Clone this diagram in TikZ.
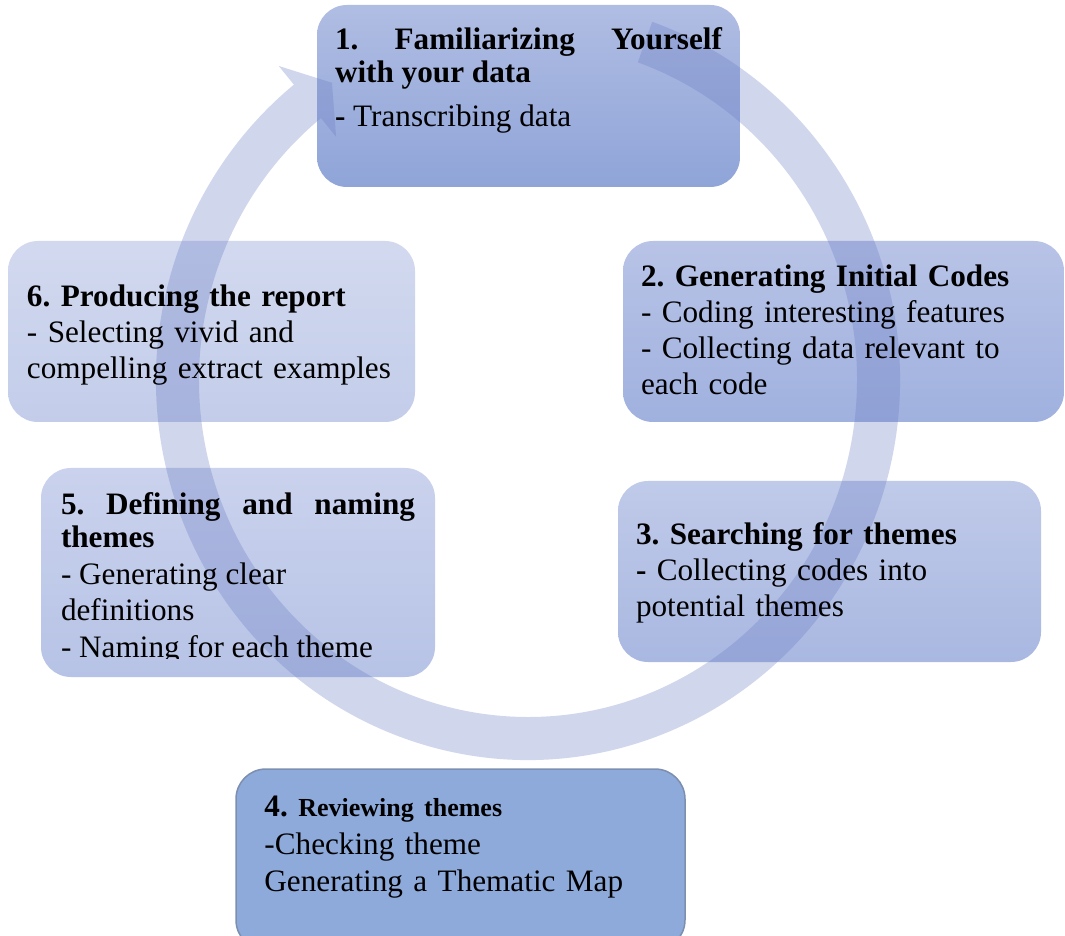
\documentclass[tikz,border=0pt]{standalone}
\usepackage{fontspec}
\setmainfont{Liberation Serif}
\usepackage{xcolor}
\usetikzlibrary{positioning}
\frenchspacing

\definecolor{s1top}{RGB}{176,189,227}
\definecolor{s1bot}{RGB}{143,164,216}
\definecolor{s2top}{RGB}{184,195,230}
\definecolor{s2bot}{RGB}{160,177,223}
\definecolor{s3top}{RGB}{192,202,233}
\definecolor{s3bot}{RGB}{169,184,225}
\definecolor{s4fill}{RGB}{142,170,219}
\definecolor{s4line}{RGB}{124,143,176}
\definecolor{s5top}{RGB}{202,210,237}
\definecolor{s5bot}{RGB}{183,195,230}
\definecolor{s6top}{RGB}{210,217,239}
\definecolor{s6bot}{RGB}{195,205,234}
\definecolor{ringblue}{RGB}{108,126,196}

\tikzset{
  stage/.style={rectangle, rounded corners=30pt, inner sep=0pt},
  stagetext/.style={inner sep=0pt, align=left, font=\fontsize{31.2}{36}\selectfont},
  cyclearrow/.style={fill=ringblue, fill opacity=0.32},
}

\begin{document}
\begin{tikzpicture}[x=1pt, y=1pt]
    \useasboundingbox (0,0) rectangle (1065,935);

    % Stage boxes
    \node[stage, top color=s1top, bottom color=s1bot, minimum width=423pt, minimum height=182pt] (familiar) at (528.5,839) {};
    \node[stage, top color=s2top, bottom color=s2bot, minimum width=441pt, minimum height=181pt] (coding) at (843.5,603.5) {};
    \node[stage, top color=s3top, bottom color=s3bot, minimum width=423pt, minimum height=181pt] (searching) at (829.5,363.5) {};
    \node[stage, fill=s4fill, draw=s4line, line width=1.5pt, minimum width=449pt, minimum height=181pt] (reviewing) at (460.5,75.5) {};
    \node[stage, top color=s5top, bottom color=s5bot, minimum width=394pt, minimum height=209pt] (defining) at (238,362.5) {};
    \node[stage, top color=s6top, bottom color=s6bot, minimum width=407pt, minimum height=181pt] (producing) at (211.5,603.5) {};

    % Cycle arrow, clockwise, head at top left
    \fill[cyclearrow, shift={(528,555)}]
        (70.5:372 and 380) arc[start angle=70.5, end angle=-231, x radius=372, y radius=380]
        -- (129:396 and 404) -- (124:350.5 and 358.5) -- (129:305 and 313)
        -- (129:329 and 337) arc[start angle=-231, end angle=70.5, x radius=329, y radius=337]
        -- cycle;

    % Stage texts
    \node[stagetext, text width=387pt, align=justify, below right=23pt and 18pt of familiar.north west] (familiar-text)
        {{\fontsize{31.2}{32.5}\selectfont\bfseries 1. Familiarizing Yourself with your data\par}\vspace{8pt}\textbf{-} Transcribing data};
    \node[stagetext, text width=405pt, below right=24pt and 18pt of coding.north west] (coding-text)
        {\textbf{2. Generating Initial Codes}\\- Coding interesting features\\- Collecting data relevant to\\each code};
    \node[stagetext, text width=387pt, below right=42pt and 18pt of searching.north west] (searching-text)
        {\textbf{3. Searching for themes}\\\textbf{-} Collecting codes into\\potential themes};
    \node[stagetext, text width=400pt, below right=28pt and 29pt of reviewing.north west, font=\fontsize{31.2}{37.5}\selectfont] (reviewing-text)
        {\textbf{4.} {\fontsize{26}{37.5}\selectfont\bfseries Reviewing themes}\\-Checking theme\\Generating a Thematic Map};
    \begin{scope}
        \clip (0,277) rectangle (1065,935);
        \node[stagetext, text width=354pt, align=justify, below right=25pt and 20pt of defining.north west, font=\fontsize{31.2}{36.5}\selectfont] (defining-text)
            {{\fontsize{31.2}{33}\selectfont\bfseries 5. Defining and naming themes\par}- Generating clear\\definitions\\- Naming for each theme};
    \end{scope}
    \node[stagetext, text width=380pt, below right=44pt and 19pt of producing.north west] (producing-text)
        {\textbf{6. Producing the report}\\- Selecting vivid and\\compelling extract examples};
\end{tikzpicture}
\end{document}
